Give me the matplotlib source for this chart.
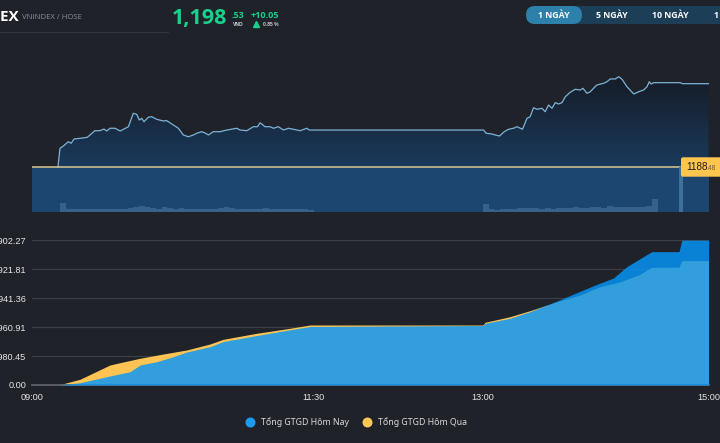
import matplotlib
matplotlib.use("Agg")
import matplotlib.pyplot as plt
import numpy as np
from matplotlib.colors import LinearSegmentedColormap
from matplotlib.lines import Line2D
from matplotlib.patches import FancyBboxPatch

plt.rcParams["font.family"] = ["Liberation Sans", "DejaVu Sans"]

################################################################################

# DATA  (time = minutes after 09:00)
ref_price = 1188.48
last_price = "1,198"
last_dec = ".53"
change = "+10.05"
change_pct = "0.85 %"

price_t = [13.8, 14.9, 16.7, 19.3, 20.8, 22.4, 25.6, 29.4, 33.5, 36.2, 38.3,
           39.8, 41.5, 44.2, 46.9, 51.3, 53.9, 55.7, 57.1, 58.4, 59.6, 61.9,
           63.7, 66.4, 69.9, 71.7, 75.2, 77.9, 80.5, 83.2, 85.9, 87.7, 90.3,
           92.1, 93.9, 96.5, 100.1, 103.7, 109.0, 110.7, 114.3, 117.8, 120.0,
           121.4, 124.0, 126.7, 128.5, 131.1, 133.8, 136.5, 139.1, 142.7,
           146.2, 147.6, 240.3, 241.7, 244.7, 246.5, 248.8, 251.3, 253.6,
           256.2, 258.1, 261.0, 263.4, 265.1, 266.9, 268.7, 271.4, 273.1,
           274.9, 276.7, 278.5, 280.2, 282.0, 283.8, 286.4, 289.1, 291.8,
           293.2, 295.3, 297.1, 298.8, 300.6, 304.2, 306.0, 307.7, 310.4,
           312.2, 314.0, 316.6, 320.2, 322.9, 325.5, 327.3, 328.5, 329.4,
           330.8, 345.0, 346.0, 360.0]
price_v = [1188.48, 1190.74, 1191.01, 1191.53, 1191.34, 1191.86, 1191.94,
           1192.06, 1192.86, 1192.86, 1193.06, 1192.82, 1193.15, 1193.15,
           1192.82, 1193.34, 1194.96, 1194.84, 1194.15, 1194.35, 1193.94,
           1194.48, 1194.55, 1194.23, 1194.03, 1194.07, 1193.55, 1193.15,
           1192.34, 1192.13, 1192.34, 1192.55, 1192.74, 1192.58, 1192.34,
           1192.74, 1192.74, 1192.94, 1193.15, 1192.94, 1192.86, 1193.34,
           1193.34, 1193.82, 1193.34, 1193.34, 1193.15, 1193.34, 1192.94,
           1193.15, 1193.03, 1192.86, 1193.15, 1192.94, 1192.94, 1192.55,
           1192.46, 1192.34, 1192.22, 1192.74, 1193.03, 1193.15, 1193.34,
           1193.03, 1194.35, 1194.55, 1195.63, 1195.44, 1195.56, 1195.15,
           1195.96, 1195.56, 1196.24, 1196.08, 1196.24, 1196.96, 1197.49,
           1197.85, 1197.77, 1197.97, 1197.37, 1197.56, 1197.97, 1198.37,
           1198.58, 1198.77, 1199.10, 1199.10, 1199.37, 1199.06, 1198.17,
           1197.29, 1197.56, 1197.77, 1198.17, 1198.77, 1198.49, 1198.65,
           1198.65, 1198.53, 1198.53]

# volume (million shares), 3-minute buckets
vol_am_start, vol_pm_start, vol_step = 15, 240, 3
vol_am = [3.0, 1.0, 0.9, 1.1, 1.0, 1.2, 1.0, 0.9, 1.1, 1.2, 1.0, 1.1, 1.3,
          1.8, 2.2, 1.6, 1.3, 1.2, 1.9, 1.4, 1.2, 1.3, 1.2, 1.1, 1.0, 1.0,
          1.1, 1.0, 1.4, 1.6, 1.3, 1.1, 1.2, 1.0, 1.0, 1.2, 1.4, 1.1, 1.0,
          1.2, 1.0, 0.9, 1.0, 0.9, 0.8]
vol_pm = [2.9, 0.9, 0.8, 1.0, 1.2, 1.1, 1.4, 1.3, 1.5, 1.3, 1.2, 1.3, 1.2,
          1.4, 1.3, 1.5, 1.6, 1.4, 1.5, 1.7, 1.6, 1.5, 2.0, 1.9, 1.7, 1.8,
          1.6, 1.8, 1.9, 2.2, 4.6]
atc_t, atc_vol = 345.5, 15.7

# cumulative traded value (billion VND)
today_t = [14.0, 25.5, 41.5, 52.2, 57.5, 66.4, 75.2, 82.3, 94.7, 101.8,
           119.6, 137.3, 148.0, 240.0, 241.1, 254.4, 265.0, 281.0, 291.6,
           302.3, 309.4, 316.5, 329.8, 344.3, 345.8, 360.0]
today_v = [0, 316, 1236, 1826, 2746, 3199, 3886, 4531, 5259, 5973, 6796,
           7579, 8032, 8170, 8471, 9158, 10064, 11700, 12860, 13990, 14680,
           16243, 18302, 18302, 19880, 19880]
yest_t = [14.0, 25.5, 41.5, 46.8, 57.5, 69.9, 82.3, 94.7, 101.8, 119.6,
          137.3, 148.0, 240.0, 241.1, 254.4, 265.0, 281.0, 291.6, 302.3,
          313.0, 323.6, 329.8, 344.3, 345.8, 360.0]
yest_v = [0, 783, 2746, 3062, 3666, 4256, 4806, 5629, 6275, 7098, 7785,
          8238, 8238, 8609, 9378, 10201, 11550, 12350, 13500, 14150, 15200,
          16160, 16160, 17066, 17066]

val_ticks = [0, 3980.45, 7960.91, 11941.36, 15921.81, 19902.27]
val_labels = ["0.00", "3,980.45", "7,960.91", "11,941.36", "15,921.81",
              "19,902.27"]
time_ticks = [0, 150, 240, 360]
time_labels = ["09:00", "11:30", "13:00", "15:00"]
legend_labels = ["Tổng GTGD Hôm Nay", "Tổng GTGD Hôm Qua"]
buttons = ["1 NGÀY", "5 NGÀY", "10 NGÀY", "1 THÁNG"]

################################################################################

W, H = 720, 443
BG = "#1f2229"
BLUE = "#0597fb"
YELLOW = "#fdc453"
SANS = ["Open Sans", "DejaVu Sans"]


def box(x0, y0, x1, y1):
    return [x0 / W, 1 - y1 / H, (x1 - x0) / W, (y1 - y0) / H]


fig = plt.figure(figsize=(W / 100, H / 100), dpi=100, facecolor=BG)

# ---- intraday price chart
ax1 = fig.add_axes(box(32, 40, 708.5, 212))
ax1.axis("off")
ax1.axhspan(1183.0, ref_price, color="#1c4670", lw=0, zorder=0)
grad = np.linspace(0, 1, 256).reshape(-1, 1)
cmap = LinearSegmentedColormap.from_list("g", ["#1b3a5c", "#151c27"])
im = ax1.imshow(grad, extent=[0, 360, ref_price, max(price_v)],
                origin="lower", aspect="auto", cmap=cmap, zorder=1)
poly = ax1.fill_between(price_t, price_v, ref_price, color="none", lw=0)
im.set_clip_path(poly.get_paths()[0], transform=ax1.transData)
ax1.plot(price_t, price_v, color="#7db3d8", lw=0.9, zorder=3)
ax1.axhline(ref_price, xmax=648 / 676.5, color="#d9c690", lw=1.1, zorder=4)
ax1.set_xlim(0, 360)
ax1.set_ylim(1183.05, 1203.8)

axv = fig.add_axes(box(32, 40, 708.5, 212))
axv.axis("off")
am_x = vol_am_start + vol_step * np.arange(len(vol_am))
pm_x = vol_pm_start + vol_step * np.arange(len(vol_pm))
axv.bar(am_x, vol_am, width=vol_step, align="edge", color="#35618b", lw=0)
axv.bar(pm_x, vol_pm, width=vol_step, align="edge", color="#35618b", lw=0)
axv.bar([atc_t], [atc_vol], width=2.0, color="#3f6f9c", lw=0)
axv.set_xlim(0, 360)
axv.set_ylim(0, 60)

# ---- cumulative value chart
ax2 = fig.add_axes(box(32, 240, 708.5, 385))
ax2.set_facecolor("none")
ax2.fill_between(yest_t, yest_v, color=YELLOW, lw=0, zorder=2)
ax2.fill_between(today_t, today_v, color=BLUE, alpha=0.82, lw=0, zorder=3)
ax2.set_xlim(0, 360)
ax2.set_ylim(0, 19902.27)
ax2.set_yticks(val_ticks, val_labels)
ax2.set_xticks(time_ticks, time_labels)
ax2.grid(axis="y", color="#3b3e45", lw=0.9)
ax2.set_axisbelow(True)
for s in ["top", "left", "right"]:
    ax2.spines[s].set_visible(False)
ax2.spines["bottom"].set_color("#5d6067")
ax2.spines["bottom"].set_linewidth(1.3)
ax2.tick_params(length=0, labelsize=6.6, colors="#e6e6e6")
ax2.tick_params(axis="y", pad=4)
ax2.tick_params(axis="x", pad=6)

handles = [Line2D([], [], ls="", marker="o", ms=6.2, color=c)
           for c in ["#1e9cf0", "#ffc65a"]]
fig.legend(handles, legend_labels, loc="center", ncol=2, frameon=False,
           bbox_to_anchor=(354 / W, 1 - 422 / H),
           labelcolor="#d8d8d8", handletextpad=0.2, columnspacing=1.1,
           prop={"family": ["Noto Sans", "DejaVu Sans"], "size": 6.3})

# ---- header / overlay
axo = fig.add_axes([0, 0, 1, 1])
axo.set_xlim(0, W)
axo.set_ylim(H, 0)
axo.axis("off")
axo.set_facecolor("none")

axo.text(19, 16.5, "VNINDEX", ha="right", va="center", color="white",
         fontsize=11, fontweight="bold", family=SANS)
axo.text(22, 17, "VNINDEX / HOSE", ha="left", va="center", color="#8b8e95",
         fontsize=5.6, family=SANS)
axo.plot([0, 168], [31.5, 31.5], color="#33363d", lw=0.8)

green = "#17d28c"
axo.text(172, 18.5, last_price, ha="left", va="center", color=green,
         fontsize=15.5, fontweight="bold", family=SANS)
axo.text(232, 15, last_dec, ha="left", va="center", color=green,
         fontsize=6.5, fontweight="bold", family=SANS)
axo.text(233, 24.3, "VND", ha="left", va="center", color="#cfd2d6",
         fontsize=3.6, fontweight="bold")
axo.text(251, 15, change, ha="left", va="center", color=green,
         fontsize=6.5, fontweight="bold", family=SANS)
axo.plot([255.5], [24.3], marker="^", ms=3.8, color=green, ls="")
axo.text(263, 24.3, change_pct, ha="left", va="center", color="#cfd2d6",
         fontsize=3.6, fontweight="bold")

axo.add_patch(FancyBboxPatch((526, 6), 230, 18,
                             boxstyle="round,pad=0,rounding_size=9",
                             color="#1c3e57", lw=0))
axo.add_patch(FancyBboxPatch((526, 6), 56, 18,
                             boxstyle="round,pad=0,rounding_size=9",
                             color="#2c80aa", lw=0))
for label, cx, ha in zip(buttons, [554, 611.5, 670, 714],
                         ["center", "center", "center", "left"]):
    axo.text(cx, 15.3, label, ha=ha, va="center", color="white",
             fontsize=6.3, fontweight="bold", family=SANS)

# last-price flag
axo.add_patch(FancyBboxPatch((681, 157.3), 45, 19.4,
                             boxstyle="round,pad=0,rounding_size=2",
                             color="#fec54f", lw=0))
axo.text(686, 167.5, "1188", ha="left", va="center", color="#1d1d1d",
         fontsize=7.2)
axo.text(706, 169, ".48", ha="left", va="center", color="#6b5a30",
         fontsize=4.8)

fig.savefig("out.png", dpi=100, facecolor=BG)
